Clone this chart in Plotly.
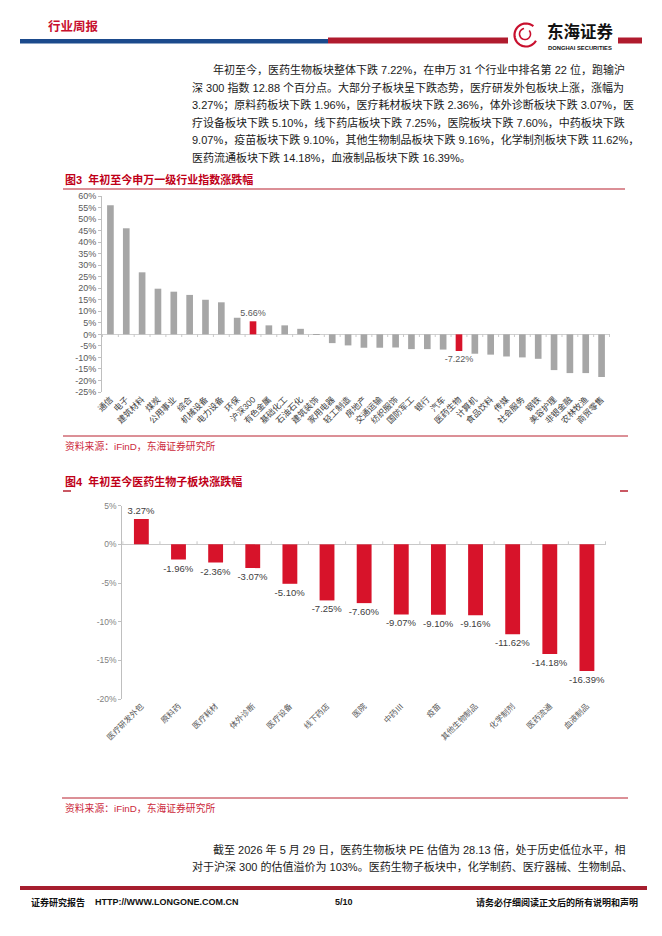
import numpy as np
import plotly.graph_objects as go

W, H = 662, 936

# 图3 申万一级行业指数年初至今涨跌幅（%）
sw_names = ["通信", "电子", "建筑材料", "煤炭", "公用事业", "综合", "机械设备", "电力设备",
            "环保", "沪深300", "有色金属", "基础化工", "石油石化", "建筑装饰", "家用电器",
            "轻工制造", "房地产", "交通运输", "纺织服饰", "国防军工", "银行", "汽车",
            "医药生物", "计算机", "食品饮料", "传媒", "社会服务", "钢铁", "美容护理",
            "非银金融", "农林牧渔", "商贸零售"]
sw_values = [56.0, 46.0, 26.9, 19.8, 18.5, 17.1, 15.0, 13.9,
             7.2, 5.66, 3.9, 3.9, 2.4, -0.2, -3.8,
             -4.8, -5.8, -5.8, -5.7, -6.4, -6.4, -6.6,
             -7.22, -8.4, -8.8, -9.6, -10.0, -10.6, -15.5,
             -16.8, -16.8, -18.5]
sw_highlight = ["沪深300", "医药生物"]
sw_ticks = list(range(-25, 61, 5))

# 图4 医药生物子板块年初至今涨跌幅（%）
sub_names = ["医疗研发外包", "原料药", "医疗耗材", "体外诊断", "医疗设备", "线下药店", "医院",
             "中药Ⅲ", "疫苗", "其他生物制品", "化学制剂", "医药流通", "血液制品"]
sub_values = [3.27, -1.96, -2.36, -3.07, -5.10, -7.25, -7.60,
              -9.07, -9.10, -9.16, -11.62, -14.18, -16.39]
sub_ticks = list(range(-20, 6, 5))

para1 = ["年初至今，医药生物板块整体下跌 7.22%，在申万 31 个行业中排名第 22 位，跑输沪",
         "深 300 指数 12.88 个百分点。大部分子板块呈下跌态势，医疗研发外包板块上涨，涨幅为",
         "3.27%；原料药板块下跌 1.96%，医疗耗材板块下跌 2.36%，体外诊断板块下跌 3.07%，医",
         "疗设备板块下跌 5.10%，线下药店板块下跌 7.25%，医院板块下跌 7.60%，中药板块下跌",
         "9.07%，疫苗板块下跌 9.10%，其他生物制品板块下跌 9.16%，化学制剂板块下跌 11.62%，",
         "医药流通板块下跌 14.18%，血液制品板块下跌 16.39%。"]
para2 = ["截至 2026 年 5 月 29 日，医药生物板块 PE 估值为 28.13 倍，处于历史低位水平，相",
         "对于沪深 300 的估值溢价为 103%。医药生物子板块中，化学制药、医疗器械、生物制品、"]

FONT = "Liberation Sans, Noto Sans CJK SC, sans-serif"
RED = "#D7132A"
GREY = "#A6A6A6"
DARKRED = "#C00018"
SRC = "#CC2A3C"


def px(x):
    return x / W


def py(y):
    return 1 - y / H


def pct(v):
    return f"{v:.2f}%"


fig = go.Figure()

# 图3
fig.add_trace(go.Bar(
    x=sw_names, y=sw_values, width=0.42,
    marker=dict(color=[RED if n in sw_highlight else GREY for n in sw_names], line_width=0),
    text=[pct(v) if n in sw_highlight else "" for n, v in zip(sw_names, sw_values)],
    textposition="outside", constraintext="none", cliponaxis=False,
    textfont=dict(size=9, color="#595959", family=FONT),
    xaxis="x", yaxis="y", hoverinfo="skip", showlegend=False))

# 图4
fig.add_trace(go.Bar(
    x=sub_names, y=sub_values, width=0.40,
    marker=dict(color=RED, line_width=0),
    text=[pct(v) for v in sub_values],
    textposition="outside", constraintext="none", cliponaxis=False,
    textfont=dict(size=9.5, color="#404040", family=FONT),
    xaxis="x2", yaxis="y2", hoverinfo="skip", showlegend=False))

shapes = []
annotations = []


def rect(x0, y0, x1, y1, color):
    shapes.append(dict(type="rect", xref="paper", yref="paper", x0=px(x0), x1=px(x1),
                       y0=py(y1), y1=py(y0), fillcolor=color, line_width=0, layer="above"))


def hline(x0, x1, y, color, width=1):
    shapes.append(dict(type="line", xref="paper", yref="paper", x0=px(x0), x1=px(x1),
                       y0=py(y), y1=py(y), line=dict(color=color, width=width)))


def text(x, y, s, size, color="#1A1A1A", anchor="left", bold=False):
    annotations.append(dict(xref="paper", yref="paper", x=px(x), y=py(y), xanchor=anchor,
                            yanchor="middle", showarrow=False,
                            text=f"<b>{s}</b>" if bold else s,
                            font=dict(size=size, color=color, family=FONT)))


def cat_ticks(xref, n, y0, y1):
    # small marks on the zero line between categories
    for i in range(n + 1):
        shapes.append(dict(type="line", xref=xref, yref="paper", x0=i - 0.5, x1=i - 0.5,
                           y0=py(y0), y1=py(y1), line=dict(color="#C8C8C8", width=1)))


# header
text(46, 26, "行业周报", 12.5, "#C8102E", bold=True)
rect(20, 39, 328, 43.5, "#1B4A8C")
rect(328, 37.5, 508, 43.5, "#B01B2E")
rect(618, 37.5, 642, 43.5, "#B01B2E")

# logo emblem
t = np.linspace(np.radians(50), np.radians(330), 40)
pts = [(526 + 11.5 * np.cos(a), 35 - 11.5 * np.sin(a)) for a in t]
path = "M " + " L ".join(f"{px(a):.5f},{py(b):.5f}" for a, b in pts)
shapes.append(dict(type="path", xref="paper", yref="paper", path=path,
                   line=dict(color="#C8102E", width=2.2)))
t2 = np.linspace(np.radians(100), np.radians(400), 30)
pts2 = [(525 + 5.5 * np.cos(a), 34 - 5.5 * np.sin(a)) for a in t2]
path2 = "M " + " L ".join(f"{px(a):.5f},{py(b):.5f}" for a, b in pts2)
shapes.append(dict(type="path", xref="paper", yref="paper", path=path2,
                   line=dict(color="#C8102E", width=1.6)))
text(545, 32, "东海证券", 16.5, "#111111", bold=True)
text(546, 47.5, "DONGHAI SECURITIES", 5.8, "#111111", bold=True)

# paragraph 1
for i, line in enumerate(para1):
    text(211 if i == 0 else 190, 70 + i * 17.45, line, 11.0)

# 图3 title / source
text(63, 180, "图3  年初至今申万一级行业指数涨跌幅", 11, DARKRED, bold=True)
hline(63, 625, 189, "#B8202F", 1.2)
hline(63, 628, 436, "#B8202F", 1)
text(63, 446, "资料来源：iFinD，东海证券研究所", 9.8, SRC)
cat_ticks("x", len(sw_names), 334, 337)

# 图4 title / source
text(63, 482, "图4  年初至今医药生物子板块涨跌幅", 11, DARKRED, bold=True)
hline(63, 71, 491, "#B8202F", 1.5)
hline(620, 628, 491, "#B8202F", 1.5)
hline(62, 628, 798, "#B8202F", 1)
text(63, 808, "资料来源：iFinD，东海证券研究所", 9.8, SRC)
cat_ticks("x2", len(sub_names), 541.3, 544.3)

# paragraph 2
for i, line in enumerate(para2):
    text(211 if i == 0 else 190, 849 + i * 17.0, line, 11.0)

# footer
rect(20, 886, 647, 890, "#A61E2E")
text(29, 902, "证券研究报告", 9, "#111111", bold=True)
text(93, 902, "HTTP://WWW.LONGONE.COM.CN", 9, "#111111", bold=True)
text(333, 902, "5/10", 9, "#111111", bold=True)
text(640, 902, "请务必仔细阅读正文后的所有说明和声明", 9, "#111111", anchor="right", bold=True)

axis_common = dict(showgrid=False, automargin=False, fixedrange=True)

fig.update_layout(
    width=W, height=H,
    margin=dict(l=0, r=0, t=0, b=0),
    paper_bgcolor="white", plot_bgcolor="rgba(0,0,0,0)",
    font=dict(family=FONT),
    shapes=shapes, annotations=annotations,
    xaxis=dict(domain=[px(102), px(610)], anchor="y", type="category",
               tickangle=-45, tickfont=dict(size=8.5, color="#404040"),
               showline=False, ticks="", zeroline=False, **axis_common),
    yaxis=dict(domain=[py(392), py(196)], anchor="x", range=[-25, 60],
               tickvals=sw_ticks, ticktext=[f"{v}%" for v in sw_ticks],
               tickfont=dict(size=9, color="#595959"),
               showline=True, linecolor="#BFBFBF", linewidth=1,
               ticks="outside", ticklen=3, tickcolor="#BFBFBF",
               zeroline=True, zerolinecolor="#D0D0D0", zerolinewidth=1, **axis_common),
    xaxis2=dict(domain=[px(122.3), px(606)], anchor="y2", type="category",
                tickangle=-45, tickfont=dict(size=8, color="#595959"),
                showline=False, ticks="", zeroline=False, **axis_common),
    yaxis2=dict(domain=[py(699), py(505.7)], anchor="x2", range=[-20, 5],
                tickvals=sub_ticks, ticktext=[f"{v}%" for v in sub_ticks],
                tickfont=dict(size=8.5, color="#7F7F7F"),
                showline=True, linecolor="#BFBFBF", linewidth=1,
                ticks="outside", ticklen=3, tickcolor="#BFBFBF",
                zeroline=True, zerolinecolor="#C8C8C8", zerolinewidth=1, **axis_common),
)

# the page body has a default 8px margin; drop it so the figure sits at 0,0
fig.write_html("out.html", config={"displayModeBar": False},
               post_script="document.body.style.margin='0';")
